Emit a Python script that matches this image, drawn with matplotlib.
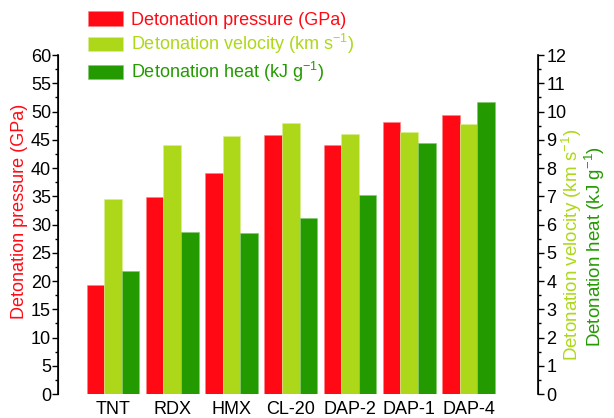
import numpy as np
import matplotlib.pyplot as plt
from matplotlib.ticker import MultipleLocator

plt.rcParams["font.family"] = ["Liberation Sans", "DejaVu Sans"]
plt.rcParams["mathtext.fontset"] = "custom"
plt.rcParams["mathtext.rm"] = "Liberation Sans"
plt.rcParams["mathtext.it"] = "Liberation Sans:italic"

compounds = ["TNT", "RDX", "HMX", "CL-20", "DAP-2", "DAP-1", "DAP-4"]
pressure = [19.3, 34.8, 39.1, 45.9, 44.1, 48.2, 49.3]   # GPa, left axis
velocity = [6.90, 8.80, 9.12, 9.58, 9.21, 9.27, 9.57]   # km/s, right axis
heat = [4.37, 5.73, 5.70, 6.22, 7.06, 8.87, 10.33]      # kJ/g, right axis

c_red = "#FF0A14"
c_lime = "#ADD819"
c_green = "#239B00"
fs = 13

fig = plt.figure(figsize=(6.14, 4.18), dpi=100)
ax = fig.add_axes([0.0945, 0.0574, 0.7815, 0.811])
ax2 = ax.twinx()

x = np.arange(len(compounds))
w = 0.296

b1 = ax.bar(x - w, pressure, w, color=c_red, edgecolor="#FF8080", lw=0.4,
            label="Detonation pressure (GPa)")
b2 = ax2.bar(x, velocity, w, color=c_lime, edgecolor="#D8EE90", lw=0.4,
             label="Detonation velocity (km s$^{-1}$)")
b3 = ax2.bar(x + w, heat, w, color=c_green, edgecolor="#80C870", lw=0.4,
             label="Detonation heat (kJ g$^{-1}$)")

ax.set_xlim(-0.927, 7.17)
ax.set_ylim(0, 60)
ax2.set_ylim(0, 12)

ax.yaxis.set_major_locator(MultipleLocator(5))
ax.yaxis.set_minor_locator(MultipleLocator(2.5))
ax2.yaxis.set_major_locator(MultipleLocator(1))
ax2.yaxis.set_minor_locator(MultipleLocator(0.5))

for a in (ax, ax2):
    a.spines["top"].set_visible(False)
    a.spines["bottom"].set_visible(False)
    a.tick_params(axis="y", which="major", length=4, width=1, labelsize=fs, direction="out")
    a.tick_params(axis="y", which="minor", length=2.5, width=1, direction="out")
ax.spines["left"].set_linewidth(1.2)
ax2.spines["right"].set_linewidth(1.2)
ax.tick_params(axis="y", pad=1)
ax2.tick_params(axis="y", pad=2)

ax.set_xticks(x)
ax.set_xticklabels(compounds, fontsize=fs)
ax.tick_params(axis="x", length=0, pad=5)

fig.text(0.031, 0.494, "Detonation pressure (GPa)", color=c_red,
         fontsize=fs, rotation=90, ha="center", va="center")
fig.text(0.9316, 0.415, "Detonation velocity (km s$^{-1}$)", color=c_lime,
         fontsize=13.5, rotation=90, ha="center", va="center")
fig.text(0.969, 0.41, "Detonation heat (kJ g$^{-1}$)", color=c_green,
         fontsize=13.5, rotation=90, ha="center", va="center")

leg = ax.legend(handles=[b1, b2, b3], loc="upper left",
                bbox_to_anchor=(0.0475, 1.15), frameon=False, fontsize=fs,
                handlelength=1.94, handleheight=0.83, handletextpad=0.44,
                labelspacing=0.2, borderaxespad=0)
for t, c in zip(leg.get_texts(), [c_red, c_lime, c_green]):
    t.set_color(c)

fig.savefig("out.png", dpi=100)
